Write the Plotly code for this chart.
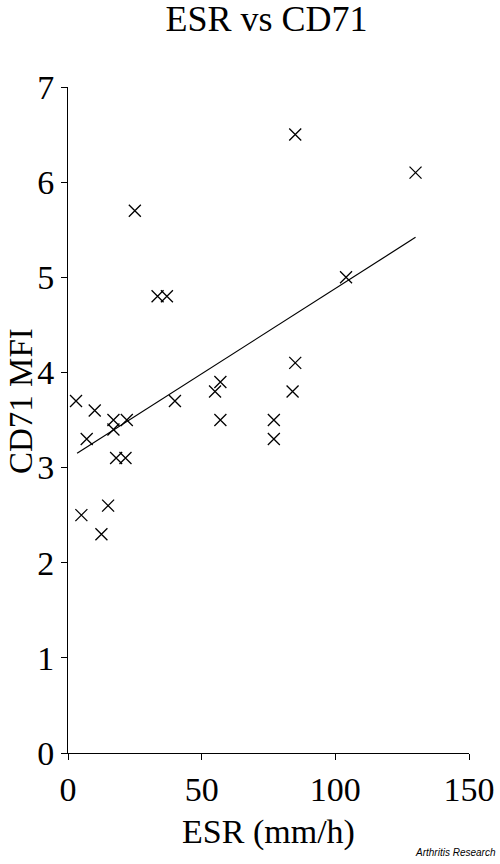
import plotly.graph_objects as go

# ESR (mm/h) and CD71 MFI
esr = [3, 10, 7, 17, 22, 17, 18, 21.5, 5, 15, 12.5, 40, 55, 57, 57,
       85, 84, 77, 77, 85, 130, 104, 25, 33.5, 37]
cd71 = [3.7, 3.6, 3.3, 3.5, 3.5, 3.4, 3.1, 3.1, 2.5, 2.6, 2.3, 3.7, 3.8, 3.9, 3.5,
        4.1, 3.8, 3.5, 3.3, 6.5, 6.1, 5.0, 5.7, 4.8, 4.8]

# regression line end points as drawn
fit_x = [3.4, 130]
fit_y = [3.15, 5.42]

x_ticks = [0, 50, 100, 150]
y_ticks = [0, 1, 2, 3, 4, 5, 6, 7]

serif = "Liberation Serif"

fig = go.Figure()
fig.add_trace(go.Scatter(x=fit_x, y=fit_y, mode="lines",
                         line=dict(color="black", width=1.2), hoverinfo="skip"))
fig.add_trace(go.Scatter(x=esr, y=cd71, mode="markers",
                         marker=dict(symbol="x-thin", size=12, color="black",
                                     line=dict(color="black", width=1.3))))

axis = dict(showgrid=False, zeroline=False, showline=True, linecolor="black",
            linewidth=1, ticks="outside", ticklen=6, tickwidth=1, tickcolor="black",
            automargin=False,
            tickfont=dict(family=serif, size=34, color="black"))

fig.update_layout(
    width=500, height=864,
    margin=dict(l=68, r=31, t=87, b=111),
    paper_bgcolor="white", plot_bgcolor="white",
    showlegend=False,
    title=dict(text="ESR vs CD71", x=266.5 / 500, xanchor="center",
               y=1 - 18 / 864, yanchor="middle",
               font=dict(family=serif, size=36, color="black")),
    xaxis=dict(axis, range=[0, 150], tickvals=x_ticks,
               title=dict(text="ESR (mm/h)", standoff=12,
                          font=dict(family=serif, size=34, color="black"))),
    yaxis=dict(axis, range=[0, 7], tickvals=y_ticks),
)

# y title sits a little above the plot middle in the original
fig.add_annotation(text="CD71 MFI", textangle=-90, xref="paper", yref="paper",
                   x=(1 - 68) / 401, y=(753 - 401) / 666, xanchor="left", yanchor="middle",
                   showarrow=False, font=dict(family=serif, size=33, color="black"))

fig.add_annotation(text="<i>Arthritis Research</i>", xref="paper", yref="paper",
                   x=1 + 29 / 401, y=-107 / 666, xanchor="right", yanchor="bottom",
                   showarrow=False, font=dict(family="Liberation Sans", size=10, color="black"))

# drop the browser's default body margin so the figure sits at the page corner
fig.write_html("out.html", config={"displayModeBar": False},
               post_script="document.body.style.margin='0';document.body.style.overflow='hidden';")
